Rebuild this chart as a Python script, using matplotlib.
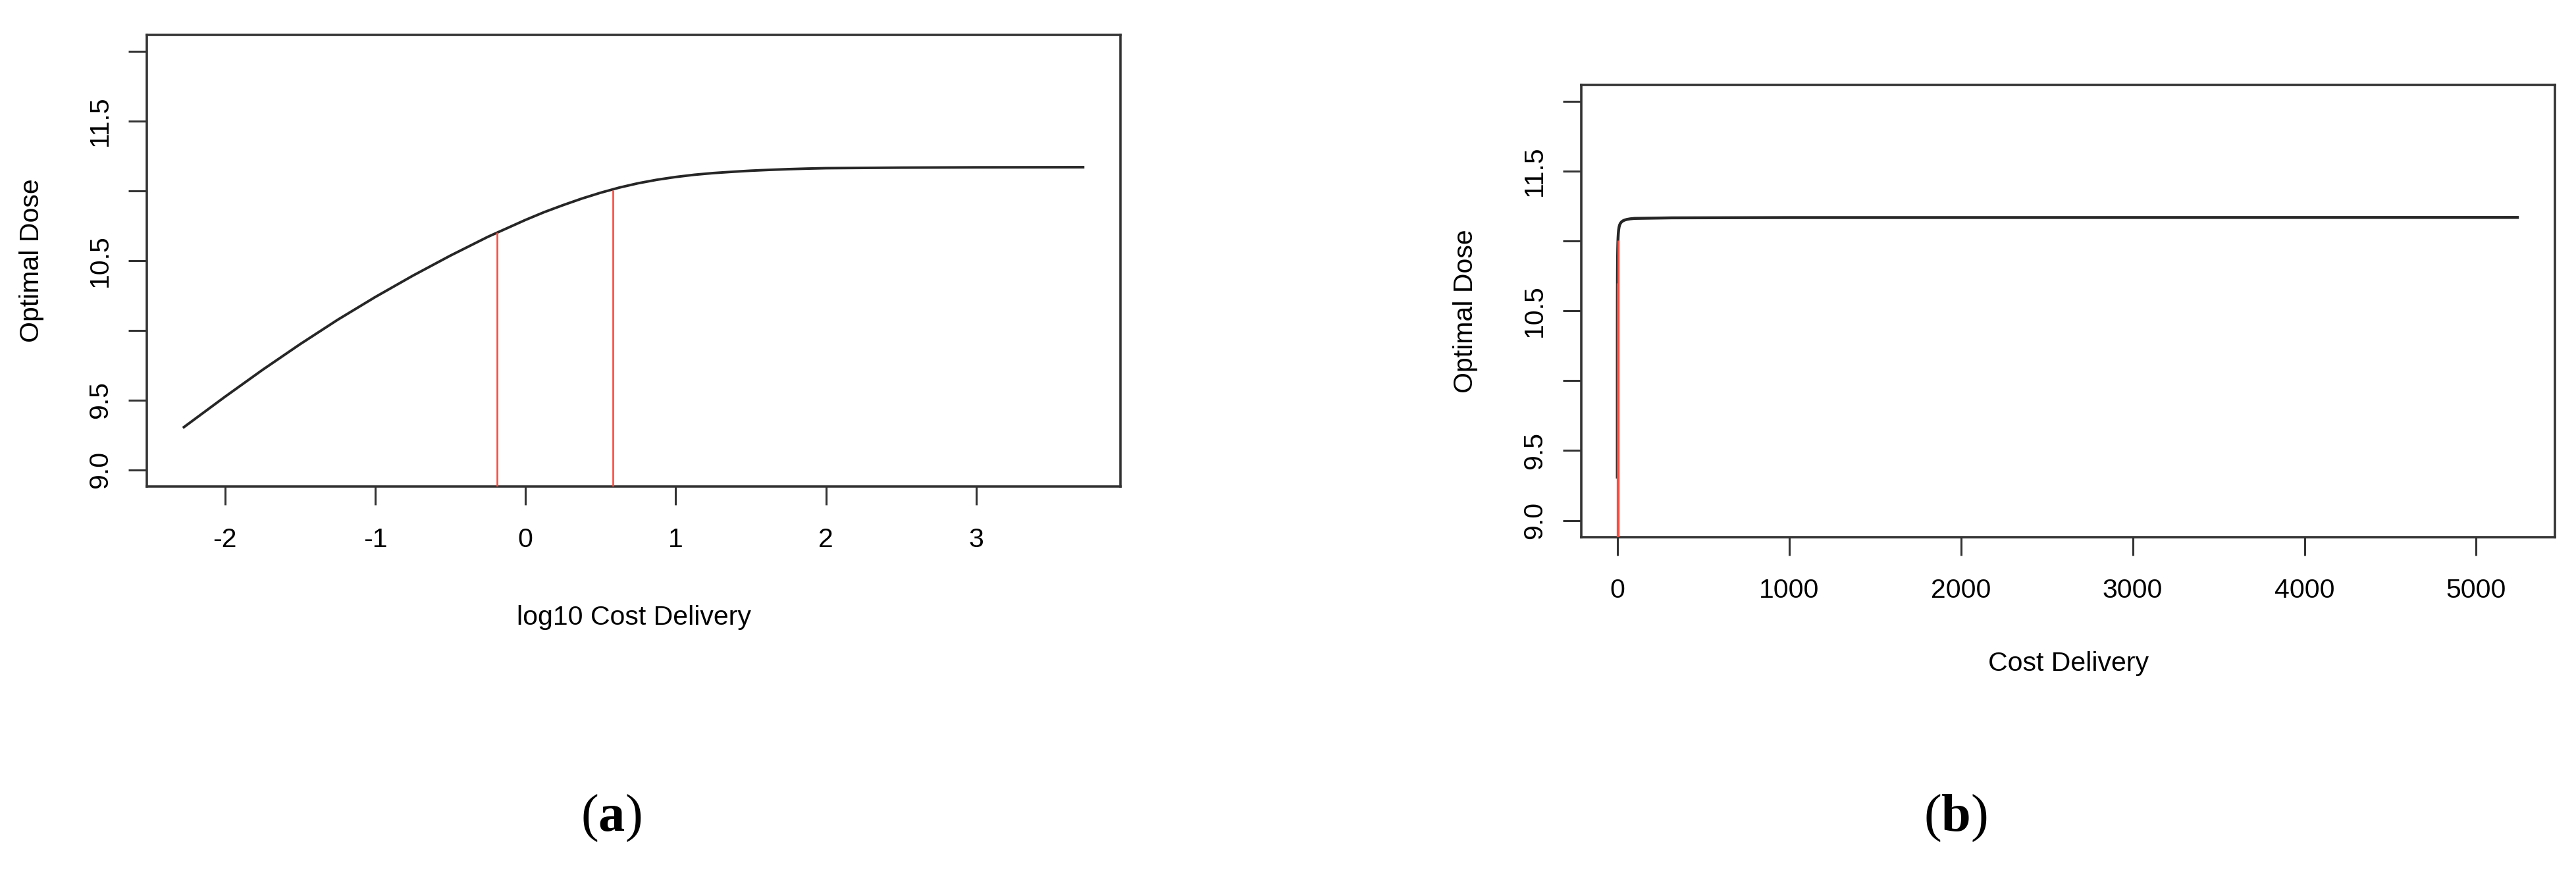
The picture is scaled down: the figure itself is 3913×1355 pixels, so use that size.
import numpy as np
import matplotlib
matplotlib.use('Agg')
import matplotlib.pyplot as plt

# ---- data ----
log10_cost = [-2.28, -2.0, -1.75, -1.5, -1.25, -1.0, -0.75, -0.5, -0.25, 0.0,
              0.125, 0.25, 0.375, 0.5, 0.625, 0.75, 0.875, 1.0, 1.125, 1.25,
              1.375, 1.5, 1.625, 1.75, 1.875, 2.0, 2.5, 3.0, 3.72]
optimal_dose = [9.300, 9.523, 9.716, 9.900, 10.075, 10.238, 10.391, 10.535, 10.670, 10.791,
                10.847, 10.897, 10.944, 10.986, 11.023, 11.054, 11.079, 11.099, 11.115, 11.127,
                11.136, 11.144, 11.150, 11.155, 11.159, 11.162, 11.166, 11.168, 11.169]
threshold_log10 = [-0.19, 0.58]
threshold_dose = [10.70, 11.005]

yticks = [9.0, 9.5, 10.0, 10.5, 11.0, 11.5, 12.0]
ytick_labels = ['9.0', '9.5', '', '10.5', '', '11.5', '']
left_xticks = [-2, -1, 0, 1, 2, 3]
left_xtick_labels = ['-2', '-1', '0', '1', '2', '3']
right_xticks = [0, 1000, 2000, 3000, 4000, 5000]
right_xtick_labels = ['0', '1000', '2000', '3000', '4000', '5000']
y_range = [9.0, 12.0]

W, H = 3913, 1355
DPI = 100
fig = plt.figure(figsize=(W / DPI, H / DPI), dpi=DPI)

plt.rcParams['mathtext.fontset'] = 'custom'
plt.rcParams['mathtext.rm'] = 'Liberation Serif'
plt.rcParams['mathtext.bf'] = 'Liberation Serif:bold'

FS = 29.5
FONT = 'Liberation Sans'
FRAME = '#333333'
CURVE = '#262626'
RED = '#ff4a3d'


def ax_rect(x0, y0, x1, y1):
    return [x0 / W, 1 - y1 / H, (x1 - x0) / W, (y1 - y0) / H]


def style(ax, xticks, xlabels, xlabel, xlab_y, ylab_x):
    ext = 0.04 * (y_range[1] - y_range[0])
    ax.set_ylim(y_range[0] - ext, y_range[1] + ext)
    ax.set_yticks(yticks)
    ax.set_yticklabels(ytick_labels, rotation=90, va='center', fontsize=FS, family=FONT)
    ax.set_xticks(xticks)
    ax.set_xticklabels(xlabels, fontsize=FS, family=FONT)
    for s in ax.spines.values():
        s.set_linewidth(2.6)
        s.set_color(FRAME)
    ax.tick_params(axis='both', direction='out', length=20.5, width=2.2, color=FRAME)
    ax.tick_params(axis='x', pad=24)
    ax.tick_params(axis='y', pad=17)
    ax.set_xlabel(xlabel, fontsize=FS, family=FONT)
    ax.set_ylabel('Optimal Dose', fontsize=FS, family=FONT)
    ax.xaxis.set_label_coords(0.5, xlab_y)
    ax.xaxis.label.set_va('center')
    ax.yaxis.set_label_coords(ylab_x, 0.5)
    ax.yaxis.label.set_va('center')
    ax.yaxis.label.set_rotation_mode('anchor')


# ---- panel (a) ----
ax1 = fig.add_axes(ax_rect(223, 52.5, 1702, 739))
ax1.plot(log10_cost, optimal_dose, color=CURVE, lw=2.8, zorder=2,
         solid_joinstyle='round', solid_capstyle='butt')
lo, hi = min(log10_cost), max(log10_cost)
ax1.set_xlim(lo - 0.04 * (hi - lo), hi + 0.04 * (hi - lo))
ax1.vlines(threshold_log10, 0, threshold_dose, color=RED, lw=1.9, zorder=3)
style(ax1, left_xticks, left_xtick_labels, 'log10 Cost Delivery', -0.2900, -0.1180)

# ---- panel (b) ----
cost = [10 ** v for v in log10_cost]
thr_cost = [10 ** v for v in threshold_log10]
ax2 = fig.add_axes(ax_rect(2402, 128.5, 3881, 816))
ax2.plot(cost, optimal_dose, color=CURVE, lw=3.2, zorder=2,
         solid_joinstyle='round', solid_capstyle='butt')
lo, hi = min(cost), max(cost)
ax2.set_xlim(lo - 0.04 * (hi - lo), hi + 0.04 * (hi - lo))
ax2.vlines(thr_cost, 0, threshold_dose, color=RED, lw=2.4, zorder=3)
style(ax2, right_xticks, right_xtick_labels, 'Cost Delivery', -0.2790, -0.1190)

# ---- sub-figure labels ----
fig.text(928 / W, 1 - 1262 / H, r'($\mathbf{a}$)', fontsize=58, family='Liberation Serif',
         ha='center', va='baseline')
fig.text(2970 / W, 1 - 1262 / H, r'($\mathbf{b}$)', fontsize=58, family='Liberation Serif',
         ha='center', va='baseline')

fig.savefig('out.png', dpi=DPI)
